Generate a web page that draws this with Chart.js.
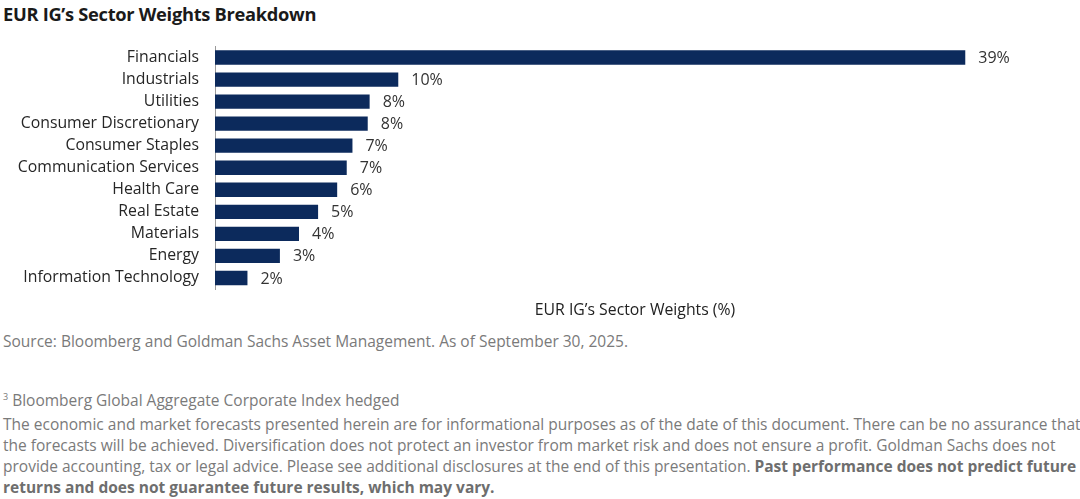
<!DOCTYPE html>
<html>
<head>
<meta charset="utf-8">
<script src="https://cdn.jsdelivr.net/npm/chart.js@4.4.1/dist/chart.umd.min.js"></script>
<style>
  body { margin: 0; width: 1080px; height: 499px; background: #fff; position: relative; overflow: hidden; font-family: "Open Sans", sans-serif; }
  #title { position: absolute; left: 3px; top: 1px; font-size: 18.3px; font-weight: 700; color: #1a1a1a; letter-spacing: -0.3px; }
  #chartBox { position: absolute; left: 0; top: 21px; width: 1080px; height: 309px; }
  .note { position: absolute; left: 3px; font-size: 15.5px; color: #7a7a7a; white-space: nowrap; }
  #source { top: 330px; }
  #foot { top: 389px; }
  #disc { top: 414px; line-height: 21px; }
  #disc b { color: #6e6e6e; }
</style>
</head>
<body>
<div id="title">EUR IG’s Sector Weights Breakdown</div>
<div id="chartBox"><canvas id="sectorChart"></canvas></div>
<div class="note" id="source">Source: Bloomberg and Goldman Sachs Asset Management. As of September 30, 2025.</div>
<div class="note" id="foot"><sup style="font-size:9px">3</sup> Bloomberg Global Aggregate Corporate Index hedged</div>
<div class="note" id="disc">The economic and market forecasts presented herein are for informational purposes as of the date of this document. There can be no assurance that<br>the forecasts will be achieved. Diversification does not protect an investor from market risk and does not ensure a profit. Goldman Sachs does not<br>provide accounting, tax or legal advice. Please see additional disclosures at the end of this presentation. <b>Past performance does not predict future<br>returns and does not guarantee future results, which may vary.</b></div>
<script>
//DATA
var sectors = ["Financials", "Industrials", "Utilities", "Consumer Discretionary", "Consumer Staples",
    "Communication Services", "Health Care", "Real Estate", "Materials", "Energy", "Information Technology"];
var weights = [39.3, 9.6, 8.1, 8.0, 7.2, 6.9, 6.4, 5.4, 4.4, 3.4, 1.7];
var weightLabels = ["39%", "10%", "8%", "8%", "7%", "7%", "6%", "5%", "4%", "3%", "2%"];
var axisTitle = "EUR IG’s Sector Weights (%)";

var barColor = "#0c2a5c";
var fontName = "'Open Sans', sans-serif";

// draws the % next to each bar
var barLabels = {
    id: "barLabels",
    afterDatasetsDraw: function(chart) {
        var ctx = chart.ctx;
        var meta = chart.getDatasetMeta(0);
        ctx.save();
        ctx.font = "16px " + fontName;
        ctx.fillStyle = "#333";
        ctx.textAlign = "left";
        ctx.textBaseline = "middle";
        meta.data.forEach(function(bar, i) {
            ctx.fillText(weightLabels[i], bar.x + 13, bar.y + 1);
        });
        ctx.restore();
    }
};

function initialiseSectorChart()
{
    var ctx = document.getElementById("sectorChart").getContext("2d");
    new Chart(ctx, {
        type: "bar",
        data: {
            labels: sectors,
            datasets: [{ data: weights, backgroundColor: barColor, borderWidth: 0,
                         categoryPercentage: 0.65, barPercentage: 1 }]
        },
        options: {
            indexAxis: "y",
            animation: false,
            responsive: true,
            maintainAspectRatio: false,
            layout: { padding: { top: 5, right: 25, left: 0, bottom: 0 } },
            plugins: { legend: { display: false }, tooltip: { enabled: false } },
            scales: {
                x: {
                    min: 0, max: 44,
                    grid: { display: false },
                    border: { display: false },
                    ticks: { display: false },
                    title: { display: true, text: axisTitle, color: "#222",
                             font: { family: fontName, size: 15.8 }, padding: { top: 0, bottom: 10 } },
                    afterFit: function(scale) { scale.height = 41; }
                },
                y: {
                    grid: { display: false, drawTicks: false },
                    border: { display: true, color: "#9a9a9a", width: 1 },
                    ticks: { color: "#262626", font: { family: fontName, size: 15.8 }, padding: 16, autoSkip: false },
                    afterFit: function(scale) { scale.width = 215; }
                }
            }
        },
        plugins: [barLabels]
    });
}

initialiseSectorChart();
</script>
</body>
</html>
